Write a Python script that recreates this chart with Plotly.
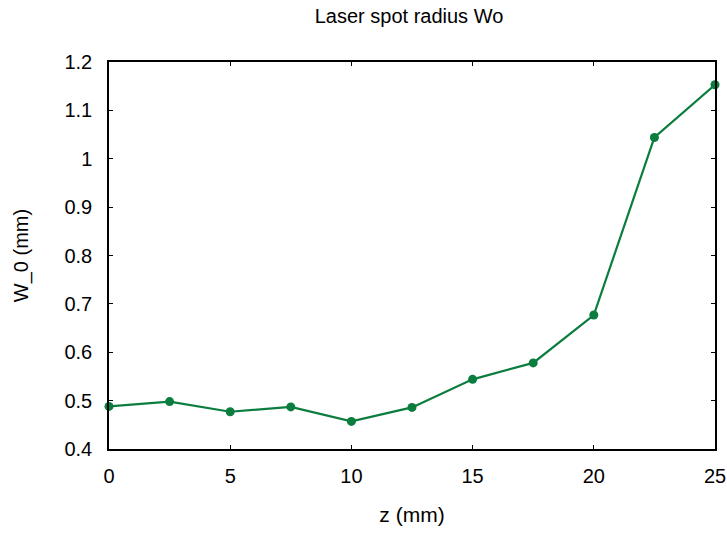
import plotly.graph_objects as go

z_mm = [0, 2.5, 5, 7.5, 10, 12.5, 15, 17.5, 20, 22.5, 25]
w0_mm = [0.488, 0.498, 0.477, 0.487, 0.457, 0.486, 0.544, 0.578, 0.677, 1.044, 1.153]
x_ticks = [0, 5, 10, 15, 20, 25]
y_ticks = [0.4, 0.5, 0.6, 0.7, 0.8, 0.9, 1.0, 1.1, 1.2]
y_ticktext = ["0.4", "0.5", "0.6", "0.7", "0.8", "0.9", "1", "1.1", "1.2"]

color = "#0b7d3e"
font = "Liberation Sans, Arial, sans-serif"

fig = go.Figure()
fig.add_trace(go.Scatter(
    x=z_mm, y=w0_mm, mode="lines+markers",
    line=dict(color=color, width=2.2),
    marker=dict(color=color, size=9, symbol="circle"),
    showlegend=False, cliponaxis=False,
))

axis_common = dict(
    showgrid=False, zeroline=False, showline=True, linecolor="black", linewidth=1.5,
    mirror="ticks", ticks="inside", ticklen=4, tickcolor="black", tickwidth=1,
    tickfont=dict(family=font, size=20, color="black"), automargin=False,
)
fig.update_xaxes(range=[0, 25], tickvals=x_ticks, ticklabelstandoff=8, **axis_common,
                 title=dict(text="z (mm)", font=dict(family=font, size=21, color="black"), standoff=22))
fig.update_yaxes(range=[0.4, 1.2], tickvals=y_ticks, ticktext=y_ticktext, ticklabelstandoff=11,
                 **axis_common,
                 title=dict(text="W_0 (mm)", font=dict(family=font, size=20, color="black"), standoff=30))

fig.update_layout(
    width=727, height=533,
    margin=dict(l=109, r=12, t=62, b=84),
    paper_bgcolor="white", plot_bgcolor="white",
    title=dict(text="Laser spot radius Wo", x=409 / 727, xanchor="center",
               y=1 - 16 / 533, yanchor="middle",
               font=dict(family=font, size=20, color="black")),
)
fig.write_html("out.html")
